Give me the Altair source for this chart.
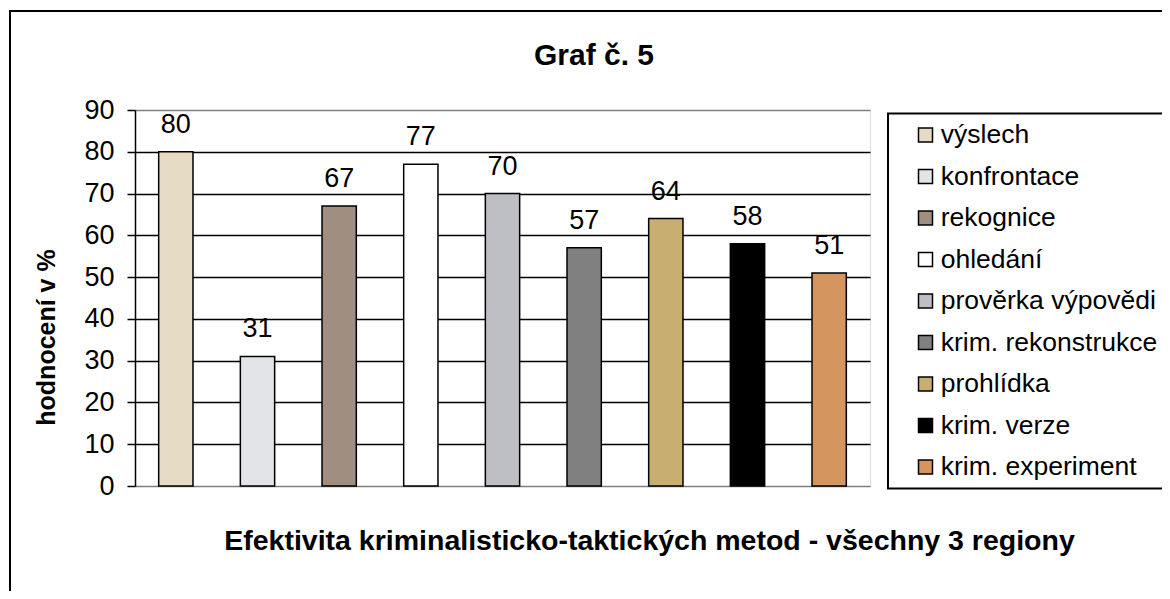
import altair as alt
import pandas as pd

categories = ["výslech", "konfrontace", "rekognice", "ohledání", "prověrka výpovědi",
              "krim. rekonstrukce", "prohlídka", "krim. verze", "krim. experiment"]
values = [80, 31, 67, 77, 70, 57, 64, 58, 51]
colors = ["#E6DCC6", "#E3E4E8", "#A08F80", "#FFFFFF", "#BEBEC5",
          "#808080", "#C9AE72", "#000000", "#D4965E"]
y_ticks = [0, 10, 20, 30, 40, 50, 60, 70, 80, 90]

chart_title = "Graf č. 5"
x_title = "Efektivita kriminalisticko-taktických metod - všechny 3 regiony"
y_title = "hodnocení v %"

FONT = "Liberation Sans"
W, H = 735, 376

df = pd.DataFrame({"metoda": categories, "hodnota": values})
one = pd.DataFrame({"k": [0]})

x_enc = alt.X(
    "metoda:N", sort=categories,
    scale=alt.Scale(paddingInner=0.58, paddingOuter=0.29),
    axis=alt.Axis(labels=False, ticks=False, domain=False, grid=False,
                  title=x_title, titleFont=FONT, titleFontSize=28.5, titleFontWeight="bold",
                  titleColor="black", titleX=514, titleY=54, titleAlign="center",
                  titleBaseline="middle", titleAnchor="start"),
)
y_enc = alt.Y(
    "hodnota:Q",
    scale=alt.Scale(domain=[0, 90], nice=False),
    axis=alt.Axis(values=y_ticks, tickSize=8, tickColor="black", tickWidth=1.5,
                  domainColor="black", domainWidth=1.5,
                  labelFont=FONT, labelFontSize=27, labelColor="black", labelPadding=13,
                  grid=True, gridWidth=1.5,
                  gridColor={"condition": {"test": "datum.value == 0 || datum.value == 90",
                                           "value": "#808080"}, "value": "black"},
                  title=y_title, titleFont=FONT, titleFontSize=25, titleFontWeight="bold",
                  titleColor="black", titleAngle=270, titleX=-89, titleY=227,
                  titleAlign="center", titleBaseline="middle"),
)

frame = alt.Chart(one).mark_rect(fillOpacity=0, stroke="black", strokeWidth=2).encode(
    x=alt.value(-125), x2=alt.value(1300), y=alt.value(-99), y2=alt.value(700))

legend_box = alt.Chart(one).mark_rect(fill="white", stroke="black", strokeWidth=2).encode(
    x=alt.value(753), x2=alt.value(1300), y=alt.value(3.5), y2=alt.value(378.5))

title_text = alt.Chart(one).mark_text(
    text=chart_title, font=FONT, fontSize=30, fontWeight="bold", color="black",
    baseline="middle", align="center").encode(x=alt.value(459), y=alt.value(-54))

bars = alt.Chart(df).mark_bar(stroke="black", strokeWidth=1.5).encode(
    x=x_enc, y=y_enc,
    color=alt.Color("metoda:N", sort=categories,
                    scale=alt.Scale(domain=categories, range=colors),
                    legend=alt.Legend(orient="none", legendX=753, legendY=3.5, title=None,
                                      labelFont=FONT, labelFontSize=26.5, labelColor="black",
                                      labelLimit=400, symbolType="square", symbolSize=196,
                                      symbolStrokeColor="black", symbolStrokeWidth=1.5,
                                      symbolOpacity=1,
                                      symbolOffset=16, labelOffset=2, padding=8.25,
                                      rowPadding=14.5)),
)

labels = alt.Chart(df).mark_text(font=FONT, fontSize=27, color="black",
                                 baseline="alphabetic", dy=-19).encode(
    x=alt.X("metoda:N", sort=categories), y="hodnota:Q", text="hodnota:Q")

chart = alt.layer(frame, legend_box, title_text, bars, labels).properties(
    width=W, height=H,
    padding={"left": 127, "top": 102, "right": 292, "bottom": 105},
    autosize=alt.AutoSizeParams(type="none"),
).configure_view(fill="#C0C0C0", stroke="#808080", strokeWidth=2).configure(
    background="white")

chart.save("out.html", embed_options={"renderer": "svg", "actions": False})
